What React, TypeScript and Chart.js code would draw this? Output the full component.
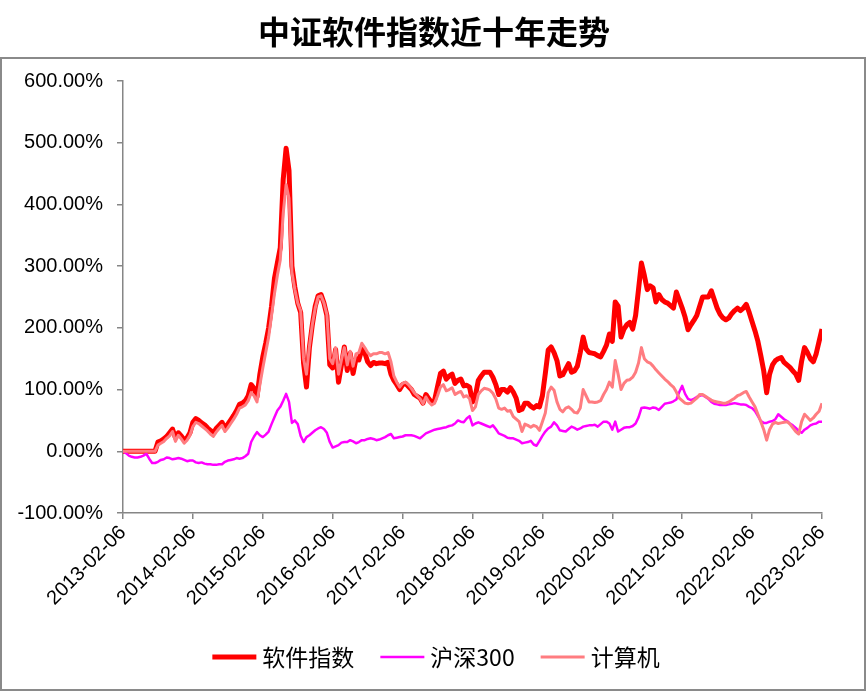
import React, { useEffect, useRef } from "react";
import { Chart, registerables } from "chart.js";

Chart.register(...registerables);

const TITLE = "中证软件指数近十年走势";
const TICK_LABELS = [
  "2013-02-06", "2014-02-06", "2015-02-06", "2016-02-06", "2017-02-06", "2018-02-06",
  "2019-02-06", "2020-02-06", "2021-02-06", "2022-02-06", "2023-02-06",
];
const SERIES_NAMES = ["软件指数", "沪深300", "计算机"];
const POINTS_PER_YEAR = 24;

// half-monthly samples, % change since 2013-02-06
const SOFTWARE = [
  0, 0, 0, 0, 0, 0, 0, 0, 0, 0, 0, 0,
  15, 17, 20, 24, 30, 36, 22, 30, 25, 18, 22, 30,
  47, 53, 50, 46, 43, 38, 34, 29, 37, 42, 47, 37,
  44, 51, 58, 66, 76, 78, 82, 90, 108, 102, 88, 125,
  153, 175, 200, 235, 280, 305, 330, 440, 491, 455, 300, 266,
  240, 225, 143, 104, 168, 205, 235, 252, 254, 240, 220, 140,
  135, 165, 112, 140, 169, 131, 159, 126, 150, 148, 165, 160,
  145, 139, 144, 142, 143, 143, 142, 144, 125, 115, 108, 100,
  108, 110, 105, 100, 92, 89, 86, 78, 92, 85, 79, 83,
  105, 126, 130, 117, 122, 125, 110, 115, 117, 106, 107, 104,
  80, 90, 115, 122, 128, 128, 128, 120, 108, 92, 100, 100,
  96, 103, 96, 86, 66, 68, 78, 78, 73, 70, 74, 72,
  90, 126, 164, 169, 160, 147, 122, 124, 133, 142, 128, 130,
  138, 160, 185, 166, 160, 159, 158, 155, 153, 162, 172, 190,
  178, 242, 235, 185, 198, 205, 209, 198, 220, 262, 305, 285,
  262, 268, 265, 242, 254, 246, 242, 240, 236, 232, 258, 245,
  232, 217, 197, 205, 212, 220, 235, 250, 250, 250, 260, 246,
  232, 222, 216, 213, 216, 223, 228, 232, 228, 232, 238, 225,
  210, 195, 178, 155, 130, 95, 125, 140, 147, 150, 152, 144,
  140, 136, 130, 125, 115, 146, 168, 160, 150, 145, 158, 178,
  198,
];

const HS300 = [
  0, -3, -7, -9, -10, -10, -9, -7, -4, -12, -19, -19,
  -17, -14, -13, -10, -11, -13, -12, -11, -12, -14, -16, -15,
  -15, -18, -19, -18, -20, -21, -21, -22, -22, -21, -21, -17,
  -15, -14, -13, -11, -12, -11, -8, -4, 15, 24, 31, 26,
  23, 27, 32, 44, 55, 66, 72, 82, 93, 80, 46, 50,
  44, 25, 15, 23, 26, 30, 34, 37, 39, 36, 30, 15,
  6, 8, 10, 14, 15, 15, 18, 16, 13, 15, 18, 18,
  20, 21, 20, 18, 19, 21, 23, 26, 28, 21, 22, 23,
  24, 26, 26, 26, 25, 23, 21, 25, 29, 31, 33, 35,
  36, 37, 38, 39, 41, 42, 45, 50, 48, 47, 53, 57,
  42, 45, 47, 45, 43, 41, 39, 42, 36, 29, 27, 25,
  22, 21, 21, 19, 17, 13, 14, 15, 17, 11, 9, 17,
  25, 32, 37, 40, 47, 42, 34, 33, 32, 36, 40, 38,
  35, 37, 40, 41, 42, 42, 43, 40, 44, 48, 48, 45,
  35, 48, 32, 35, 38, 39, 39, 41, 45, 55, 70, 71,
  70, 69, 71, 70, 67, 72, 77, 78, 79, 81, 84, 96,
  106, 93, 85, 83, 85, 88, 90, 91, 88, 85, 80, 77,
  76, 75, 75, 75, 76, 77, 78, 77, 76, 76, 75, 72,
  70, 65, 57, 49, 46, 46, 48, 49, 52, 60, 56, 52,
  49, 45, 42, 38, 33, 30, 35, 38, 42, 44, 45, 48,
  48,
];

const COMPUTER = [
  0, 0, 0, 0, 0, 0, 0, 0, 0, 0, 0, 0,
  10, 13, 16, 21, 25, 32, 16, 26, 20, 13, 18, 26,
  40, 47, 45, 41, 37, 33, 28, 24, 31, 37, 42, 32,
  38, 45, 52, 60, 70, 72, 75, 82, 95, 90, 80, 108,
  135, 160, 185, 220, 255, 285, 310, 385, 432, 410, 290, 262,
  240, 228, 150, 125, 170, 205, 232, 250, 252, 240, 222, 150,
  142, 168, 125, 148, 168, 140, 162, 138, 158, 160, 175, 168,
  160, 155, 158, 158, 160, 160, 158, 160, 145, 122, 112, 104,
  110, 112, 108, 102, 95, 90, 85, 77, 88, 80, 75, 78,
  90, 104, 108, 98, 100, 103, 92, 95, 97, 88, 90, 85,
  66, 72, 92, 98, 102, 101, 99, 94, 85, 70, 68, 70,
  65, 66, 56, 52, 48, 32, 44, 42, 39, 42, 40, 34,
  48, 62, 95, 104, 99, 80, 68, 64, 70, 72, 68, 63,
  62, 70, 100, 90, 80, 80, 79, 80, 82, 92, 100, 112,
  104, 147, 125, 100, 110, 115, 116, 120, 128, 143, 168, 150,
  145, 143, 138, 132, 127, 122, 117, 113, 108, 104, 96, 86,
  82, 78, 77, 78, 82, 86, 92, 92, 89, 86, 83, 81,
  80, 79, 78, 78, 80, 83, 86, 90, 92, 95, 97, 88,
  80, 72, 60, 48, 35, 18, 35, 44, 47, 45, 46, 47,
  48, 44, 38, 32, 28, 48, 60, 55, 50, 54, 60, 65,
  78,
];

const COLORS = ["#FF0000", "#FF00FF", "#FF7C80"];
const LINE_WIDTHS = [5, 2.5, 3];

export default function App() {
  const canvasRef = useRef<HTMLCanvasElement | null>(null);

  useEffect(() => {
    const canvas = canvasRef.current;
    if (!canvas) return;
    const toXY = (arr: number[]) => arr.map((y, i) => ({ x: i, y }));
    const seriesData = [SOFTWARE, HS300, COMPUTER];

    const framePlugin = {
      id: "frame",
      beforeDraw(chart: any) {
        const ctx = chart.ctx;
        ctx.save();
        ctx.fillStyle = "#ffffff";
        ctx.fillRect(0, 0, chart.width, chart.height);
        ctx.restore();
      },
      afterDraw(chart: any) {
        const ctx = chart.ctx as CanvasRenderingContext2D;
        ctx.save();
        // outer frame
        ctx.strokeStyle = "#8a8a8a";
        ctx.lineWidth = 2;
        ctx.strokeRect(1, 58, 864, 632);
        // title
        ctx.fillStyle = "#000000";
        ctx.font = 'bold 32px "Noto Sans CJK SC"';
        ctx.textAlign = "center";
        ctx.textBaseline = "middle";
        ctx.fillText(TITLE, 434, 32);
        // legend
        ctx.font = '23px "Noto Sans CJK SC"';
        ctx.textAlign = "left";
        const lineLen = 44;
        const gap = 6;
        const itemGap = 26;
        const widths = SERIES_NAMES.map((n) => lineLen + gap + ctx.measureText(n).width);
        const total = widths.reduce((a, b) => a + b, 0) + itemGap * (SERIES_NAMES.length - 1);
        let x = 436 - total / 2;
        const y = 657;
        SERIES_NAMES.forEach((name, i) => {
          ctx.strokeStyle = COLORS[i];
          ctx.lineWidth = LINE_WIDTHS[i];
          ctx.beginPath();
          ctx.moveTo(x, y);
          ctx.lineTo(x + lineLen, y);
          ctx.stroke();
          ctx.fillStyle = "#000000";
          ctx.fillText(name, x + lineLen + gap, y);
          x += widths[i] + itemGap;
        });
        ctx.restore();
      },
    };

    const chart = new Chart(canvas, {
      type: "line",
      data: {
        datasets: SERIES_NAMES.map((name, i) => ({
          label: name,
          data: toXY(seriesData[i]),
          borderColor: COLORS[i],
          backgroundColor: COLORS[i],
          borderWidth: LINE_WIDTHS[i],
          pointRadius: 0,
          pointHoverRadius: 0,
          tension: 0,
          fill: false,
          order: 3 - i,
          borderJoinStyle: "round" as const,
        })),
      },
      options: {
        animation: false,
        responsive: true,
        maintainAspectRatio: false,
        events: [],
        layout: { padding: { top: 81, left: 0, right: 45, bottom: 0 } },
        plugins: {
          legend: { display: false },
          title: { display: false },
          tooltip: { enabled: false },
        },
        scales: {
          x: {
            type: "linear",
            min: 0,
            max: (TICK_LABELS.length - 1) * POINTS_PER_YEAR,
            grid: {
              display: true,
              drawOnChartArea: false,
              drawTicks: true,
              tickLength: 6,
              color: "#868686",
              lineWidth: 1.5,
            },
            border: { display: true, color: "#868686", width: 1.5 },
            ticks: {
              stepSize: POINTS_PER_YEAR,
              autoSkip: false,
              maxRotation: 45,
              minRotation: 45,
              padding: 2,
              color: "#000000",
              font: { family: '"Liberation Sans"', size: 20 },
              callback: (v: any) => TICK_LABELS[Math.round(Number(v) / POINTS_PER_YEAR)] ?? "",
            },
            afterFit: (scale: any) => {
              scale.height = 180;
            },
          },
          y: {
            type: "linear",
            min: -100,
            max: 600,
            grid: {
              display: true,
              drawOnChartArea: false,
              drawTicks: true,
              tickLength: 6,
              color: "#868686",
              lineWidth: 1.5,
            },
            border: { display: true, color: "#868686", width: 1.5 },
            ticks: {
              stepSize: 100,
              padding: 14,
              color: "#000000",
              font: { family: '"Liberation Sans"', size: 20 },
              callback: (v: any) => Number(v).toFixed(2) + "%",
            },
            afterFit: (scale: any) => {
              scale.width = 123;
            },
          },
        },
      },
      plugins: [framePlugin],
    });

    return () => {
      chart.destroy();
    };
  }, []);

  return (
    <div style={{ position: "absolute", left: 0, top: 0, width: 867, height: 693, background: "#fff" }}>
      <canvas ref={canvasRef} />
    </div>
  );
}
